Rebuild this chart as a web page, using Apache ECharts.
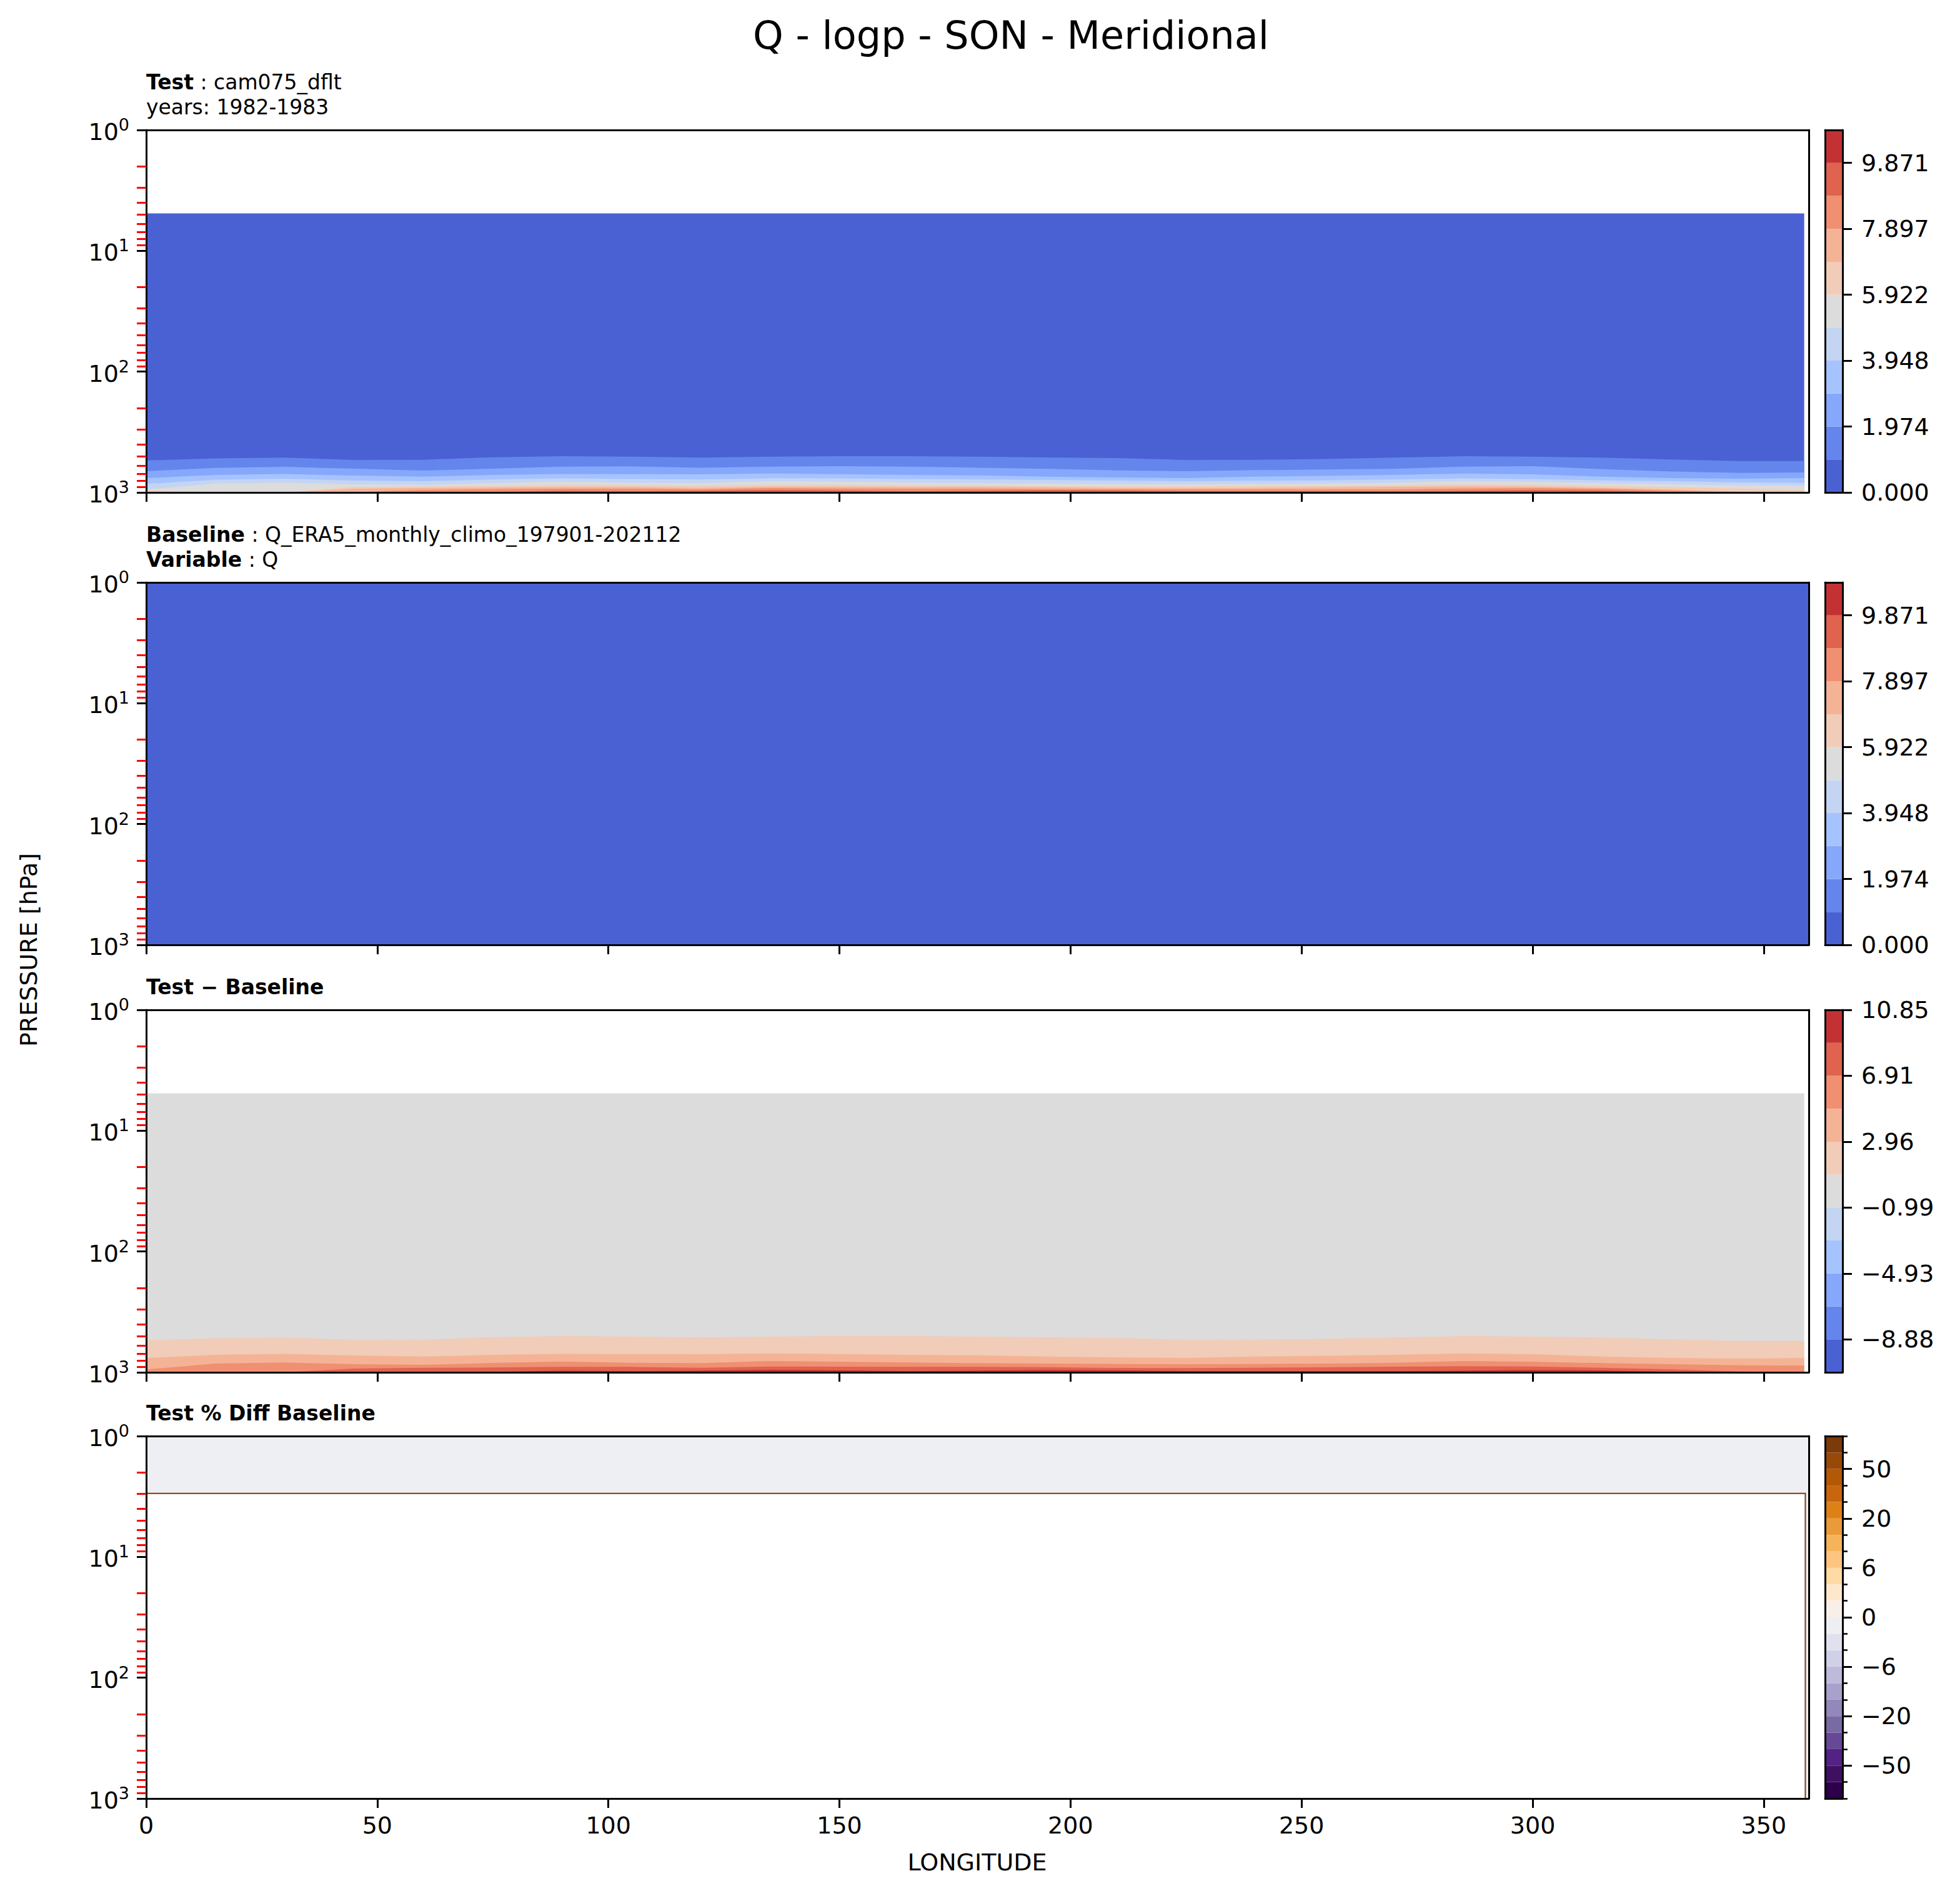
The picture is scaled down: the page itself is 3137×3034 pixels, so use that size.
<!DOCTYPE html>
<html>
<head>
<meta charset="utf-8">
<script src="https://cdn.jsdelivr.net/npm/echarts@6/dist/echarts.min.js"></script>
<style>html,body{margin:0;padding:0;background:#fff}#c{width:3137px;height:3034px}</style>
</head>
<body>
<div id="c"></div>
<script>
// ---------------- DATA ----------------
const lonSamples = [0,15,30,45,60,75,90,105,120,135,150,165,180,195,210,225,240,255,270,285,300,315,330,345,358.75];
// Test Q contour boundaries (hPa) at each longitude sample, level k separates band k-1 / band k
const testQ_b1  = [543,522,515,538,536,511,501,505,515,505,501,501,505,513,520,538,536,528,515,501,505,515,534,549,549];
const testQ_b2  = [667,626,614,636,659,636,611,609,624,611,606,611,624,638,657,667,654,646,638,611,606,641,672,689,683];
const testQ_b3  = [761,717,703,726,740,717,703,705,708,697,705,717,723,740,752,761,740,729,717,697,708,740,761,769,761];
const testQ_b4  = [850,785,769,798,807,782,764,773,782,764,764,776,782,788,798,807,801,795,782,764,776,795,807,827,833];
const testQ_b5  = [946,847,830,857,867,837,814,833,840,807,817,830,840,847,853,857,853,847,833,807,817,840,857,874,881];
const testQ_b6  = [957,1000,1000,902,891,884,867,867,881,864,864,874,874,884,891,891,884,881,874,857,864,884,902,927,946];
const testQ_b7  = [1000,1000,1000,931,917,913,902,902,917,895,898,902,902,906,920,924,917,909,898,891,895,917,946,984,1000];
const testQ_b8  = [1000,1000,1000,992,953,938,931,931,942,920,927,931,931,938,942,946,946,946,942,927,920,935,965,1000,1000];
const testQ_b9  = [1000,1000,1000,1000,1000,992,969,976,969,953,961,976,969,957,961,976,976,976,976,969,957,965,992,1000,1000];
const testQ_b10 = [1000,1000,1000,1000,1000,1000,988,1000,1000,992,990,1000,1000,995,1000,1000,1000,1000,1000,1000,988,990,1000,1000,1000];
const testTopP = 4.9;          // top of test data (hPa)
const testLonEnd = 358.75;
const baseLonEnd = 359.75;
const pctNanTopP = 2.98;       // % diff: valid region ends here
const pctNanLon = 359;

const qLevelMax = 10.858;
const qTickValues = [0, 1.974, 3.948, 5.922, 7.897, 9.871];
const diffMin = -10.85, diffMax = 10.85;
const diffTickValues = [-8.88, -4.93, -0.99, 2.96, 6.91, 10.85];
const pctLevels = [-100,-75,-50,-40,-30,-20,-15,-10,-6,-4,-2,0,2,4,6,10,15,20,30,40,50,75,100];
const pctLabelIdx = [2,5,8,11,14,17,20];
const lonTicks = [0,50,100,150,200,250,300,350];
const pMajor = [1,10,100,1000];
const pMinor = [2,3,4,5,6,7,8,9,20,30,40,50,60,70,80,90,200,300,400,500,600,700,800,900];

const titleText = 'Q - logp - SON - Meridional';
const subTitles = [
  ['{b|Test} : cam075_dflt', 'years: 1982-1983'],
  ['{b|Baseline} : Q_ERA5_monthly_climo_197901-202112', '{b|Variable} : Q'],
  ['{b|Test \u2212 Baseline}'],
  ['{b|Test % Diff Baseline}']
];

// ---------------- STYLE ----------------
const coolwarm11 = ['#4961d2','#6485ec','#85a8fc','#a5c3fe','#c4d5f3','#dcdcdc','#f1ccb8','#f5b396','#f08f71','#df634e','#c43133'];
const puor22 = ['#2d004b','#3f1062','#522384','#664896','#786aa5','#9288b9','#a8a1cb','#bdbadb','#d0d1e6','#e0e1ee','#eeeff3',
                '#f8f0e8','#fde8cd','#fedaa5','#fdc57f','#f7b35a','#ea9a39','#dd8117','#c9660d','#b35806','#984808','#7a3a09'];
const FONT = 'DejaVu Sans';
const panelTops = [208, 932, 1616, 2298];
const panelH = 580;
const mainLeft = 234, mainW = 2661;
const cbLeft = 2921, cbW = 28;

// ---------------- BUILD ----------------
const qLevels = Array.from({length: 12}, (_, k) => qLevelMax * k / 11);
const diffLevels = Array.from({length: 12}, (_, k) => diffMin + (diffMax - diffMin) * k / 11);
const testBounds = [testQ_b1,testQ_b2,testQ_b3,testQ_b4,testQ_b5,testQ_b6,testQ_b7,testQ_b8,testQ_b9,testQ_b10];
const diffBounds = [testQ_b1,testQ_b3,testQ_b5,testQ_b7,testQ_b9];

const panelLayers = [
  [{lons:[0,testLonEnd], top:[testTopP,testTopP], color:coolwarm11[0]}]
    .concat(testBounds.map((b,k)=>({lons:lonSamples, top:b, color:coolwarm11[k+1]}))),
  [{lons:[0,baseLonEnd], top:[1,1], color:coolwarm11[0]}],
  [{lons:[0,testLonEnd], top:[testTopP,testTopP], color:coolwarm11[5]}]
    .concat(diffBounds.map((b,k)=>({lons:lonSamples, top:b, color:coolwarm11[k+6]}))),
  [{lons:[0,baseLonEnd], top:[1,1], color:puor22[10]},
   {lons:[0,pctNanLon], top:[pctNanTopP,pctNanTopP], color:'#ffffff', stroke:'#7f3b08'}]
];
const cbSpecs = [
  {min:0, max:qLevelMax, bands: coolwarm11.map((c,k)=>[qLevels[k], qLevels[k+1], c]), ticks:qTickValues, fmt:v=>v.toFixed(3)},
  {min:0, max:qLevelMax, bands: coolwarm11.map((c,k)=>[qLevels[k], qLevels[k+1], c]), ticks:qTickValues, fmt:v=>v.toFixed(3)},
  {min:diffMin, max:diffMax, bands: coolwarm11.map((c,k)=>[diffLevels[k], diffLevels[k+1], c]), ticks:diffTickValues,
   fmt:v=>(v<0?'\u2212':'')+Math.abs(v).toFixed(2)},
  {min:0, max:pctLevels.length-1, bands: puor22.map((c,k)=>[k,k+1,c]), ticks:pctLabelIdx,
   fmt:v=>{const p=pctLevels[Math.round(v)]; return (p<0?'\u2212':'')+Math.abs(p);}, minor:pctLevels.map((_,k)=>k)}
];

const line3 = {show:true, onZero:false, lineStyle:{color:'#000', width:3}};
const noLine = {show:false, onZero:false};
const grids = [], xAxes = [], yAxes = [], series = [], graphics = [];

function panelRender(layers) {
  return function (params, api) {
    const L = layers[params.dataIndex];
    const n = L.lons.length, pts = [];
    for (let i = 0; i < n; i++) pts.push(api.coord([L.lons[i], L.top[i]]));
    pts.push(api.coord([L.lons[n-1], 1000]));
    pts.push(api.coord([L.lons[0], 1000]));
    return {type:'polygon', shape:{points:pts},
      style:{fill:L.color, stroke:L.stroke || null, lineWidth:L.stroke ? 2 : 0}};
  };
}
function cbRender(bands) {
  return function (params, api) {
    const b = bands[params.dataIndex];
    const p0 = api.coord([0, b[0]]), p1 = api.coord([1, b[1]]);
    return {type:'rect', shape:{x:p0[0], y:p1[1], width:p1[0]-p0[0], height:p0[1]-p1[1]}, style:{fill:b[2]}};
  };
}

for (let i = 0; i < 4; i++) {
  const top = panelTops[i];
  const gMain = grids.length;
  grids.push({left:mainLeft, top:top, width:mainW, height:panelH, containLabel:false, outerBoundsMode:'none'});
  const gCb = grids.length;
  grids.push({left:cbLeft, top:top, width:cbW, height:panelH, containLabel:false, outerBoundsMode:'none'});

  const xMain = xAxes.length;
  xAxes.push({gridIndex:gMain, type:'value', min:0, max:baseLonEnd, position:'bottom', z:20,
    axisLine:line3, splitLine:{show:false},
    axisTick:{show:true, customValues:lonTicks, length:15, lineStyle:{color:'#000', width:3}},
    axisLabel:{show:i===3, customValues:lonTicks, fontSize:38, fontFamily:FONT, color:'#000', margin:24}});
  xAxes.push({gridIndex:gMain, type:'value', min:0, max:baseLonEnd, position:'top', z:20,
    axisLine:line3, axisTick:{show:false}, axisLabel:{show:false}, splitLine:{show:false}});
  const xCb = xAxes.length;
  xAxes.push({gridIndex:gCb, type:'value', min:0, max:1, position:'bottom', z:20,
    axisLine:line3, axisTick:{show:false}, axisLabel:{show:false}, splitLine:{show:false}});
  xAxes.push({gridIndex:gCb, type:'value', min:0, max:1, position:'top', z:20,
    axisLine:line3, axisTick:{show:false}, axisLabel:{show:false}, splitLine:{show:false}});

  const yMain = yAxes.length;
  yAxes.push({gridIndex:gMain, type:'log', logBase:10, min:1, max:1000, inverse:true, position:'left', z:20,
    axisLine:line3, splitLine:{show:false}, minorTick:{show:false},
    axisTick:{show:true, customValues:pMajor, length:15, lineStyle:{color:'#000', width:3}},
    axisLabel:{show:true, customValues:pMajor, margin:27, color:'#000', fontFamily:FONT,
      formatter:v=>'{b|10}{s|'+Math.round(Math.log10(v))+'}',
      rich:{b:{fontSize:38, fontFamily:FONT, color:'#000', lineHeight:44, verticalAlign:'bottom'},
            s:{fontSize:27, fontFamily:FONT, color:'#000', lineHeight:20, verticalAlign:'top'}}}});
  yAxes.push({gridIndex:gMain, type:'log', logBase:10, min:1, max:1000, inverse:true, position:'left', z:21,
    axisLine:noLine, splitLine:{show:false}, minorTick:{show:false}, axisLabel:{show:false},
    axisTick:{show:true, customValues:pMinor, length:15, lineStyle:{color:'#ff0000', width:3}}});
  yAxes.push({gridIndex:gMain, type:'log', logBase:10, min:1, max:1000, inverse:true, position:'right', z:20,
    axisLine:line3, splitLine:{show:false}, axisTick:{show:false}, axisLabel:{show:false}});

  const cb = cbSpecs[i];
  yAxes.push({gridIndex:gCb, type:'value', min:cb.min, max:cb.max, position:'left', z:20,
    axisLine:line3, splitLine:{show:false}, axisTick:{show:false}, axisLabel:{show:false}});
  const yCb = yAxes.length;
  yAxes.push({gridIndex:gCb, type:'value', min:cb.min, max:cb.max, position:'right', z:20,
    axisLine:line3, splitLine:{show:false},
    axisTick:{show:true, customValues:cb.ticks, length:15, lineStyle:{color:'#000', width:3}},
    axisLabel:{show:true, customValues:cb.ticks, formatter:cb.fmt, fontSize:38, fontFamily:FONT, color:'#000', margin:30}});
  if (cb.minor) {
    yAxes.push({gridIndex:gCb, type:'value', min:cb.min, max:cb.max, position:'right', z:20,
      axisLine:noLine, splitLine:{show:false}, axisLabel:{show:false},
      axisTick:{show:true, customValues:cb.minor, length:8, lineStyle:{color:'#000', width:2.5}}});
  }

  const layers = panelLayers[i];
  series.push({type:'custom', xAxisIndex:xMain, yAxisIndex:yMain, clip:true, silent:true, animation:false,
    data:layers.map((_,k)=>k), renderItem:panelRender(layers)});
  series.push({type:'custom', xAxisIndex:xCb, yAxisIndex:yCb, clip:true, silent:true, animation:false,
    data:cb.bands.map((_,k)=>k), renderItem:cbRender(cb.bands)});

  const subs = subTitles[i];
  subs.forEach((t, j) => {
    const y = subs.length === 2 ? top - 76.5 + j*40 : top - 36.5;
    graphics.push({type:'text', x:mainLeft, y:y, z:50,
      style:{text:t, fontSize:33, fontFamily:FONT, fill:'#000', align:'left', verticalAlign:'middle',
        rich:{b:{fontSize:33, fontFamily:FONT, fontWeight:'bold', fill:'#000'}}}});
  });
}

graphics.push({type:'text', x:1618, y:56, z:50,
  style:{text:titleText, fontSize:62, fontFamily:FONT, fill:'#000', align:'center', verticalAlign:'middle'}});
graphics.push({type:'text', x:46, y:1520, rotation:Math.PI/2, z:50,
  style:{text:'PRESSURE [hPa]', fontSize:38, fontFamily:FONT, fill:'#000', align:'center', verticalAlign:'middle'}});
graphics.push({type:'text', x:1564, y:2980, z:50,
  style:{text:'LONGITUDE', fontSize:38, fontFamily:FONT, fill:'#000', align:'center', verticalAlign:'middle'}});

const chart = echarts.init(document.getElementById('c'), null, {renderer:'svg', width:3137, height:3034});
chart.setOption({
  animation:false,
  backgroundColor:'#ffffff',
  textStyle:{fontFamily:FONT},
  grid:grids, xAxis:xAxes, yAxis:yAxes, series:series, graphic:graphics
});
</script>
</body>
</html>
